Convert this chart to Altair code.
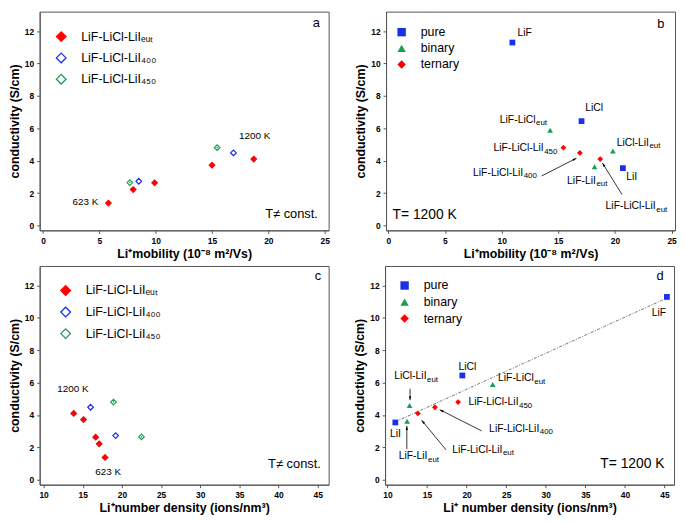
import math
import altair as alt
import pandas as pd

# ---------------- data ----------------
# panels a & c : ternary LiF-LiCl-LiI melts at several temperatures (623 K ... 1200 K)
tern_labels = ["LiF-LiCl-LiIₑᵤₜ", "LiF-LiCl-LiI₄₀₀", "LiF-LiCl-LiI₄₅₀"]
tern_series = [tern_labels[0]] * 5 + [tern_labels[1]] * 2 + [tern_labels[2]] * 2
tern_mobility = [5.8, 8.0, 9.9, 15.0, 18.7, 8.5, 16.9, 7.7, 15.45]
tern_density = [17.85, 17.1, 16.65, 15.1, 13.85, 19.2, 16.0, 22.5, 18.92]
tern_conductivity = [1.38, 2.22, 2.63, 3.72, 4.10, 2.73, 4.48, 2.65, 4.80]

# panels b & d : all melts at 1200 K
melt_groups_order = ["pure", "binary", "ternary"]
melt_names = ["LiF", "LiCl", "LiI", "LiF-LiCl eut", "LiCl-LiI eut", "LiF-LiI eut",
              "LiF-LiCl-LiI 450", "LiF-LiCl-LiI 400", "LiF-LiCl-LiI eut"]
melt_groups = ["pure"] * 3 + ["binary"] * 3 + ["ternary"] * 3
melt_mobility = [10.95, 17.05, 20.7, 14.28, 19.82, 18.2, 15.45, 16.9, 18.7]
melt_density = [45.3, 19.46, 11.0, 23.3, 12.8, 12.48, 18.92, 16.0, 13.85]
melt_conductivity = [11.29, 6.44, 3.54, 5.88, 4.59, 3.62, 4.80, 4.48, 4.10]

# annotation texts (main text + subscript) and their anchors in data units
notes_a_text = ["623 K", "1200 K"]
notes_a_x = [4.9, 17.4]
notes_a_y = [1.47, 5.54]
notes_a_align = ["right", "left"]

notes_c_text = ["1200 K", "623 K"]
notes_c_x = [11.75, 16.6]
notes_c_y = [5.62, 0.5]
notes_c_align = ["left", "left"]

notes_b_text = ["LiF", "LiCl", "LiI", "LiF-LiCl", "LiCl-LiI", "LiF-LiI",
                "LiF-LiCl-LiI", "LiF-LiCl-LiI", "LiF-LiCl-LiI"]
notes_b_sub = ["", "", "", "eut", "eut", "eut", "450", "400", "eut"]
notes_b_x = [11.4, 17.37, 21.0, 12.99, 23.0, 18.32, 13.71, 11.9, 23.6]
notes_b_y = [11.88, 7.23, 2.96, 6.52, 5.09, 2.76, 4.77, 3.26, 1.17]
notes_b_align = ["left", "left", "left", "right", "right", "right", "right", "right", "right"]

notes_d_text = ["LiF", "LiCl", "LiI", "LiCl-LiI", "LiF-LiCl", "LiF-LiCl-LiI",
                "LiF-LiCl-LiI", "LiF-LiCl-LiI", "LiF-LiI"]
notes_d_sub = ["", "", "", "eut", "eut", "450", "400", "eut", "eut"]
notes_d_x = [45.2, 18.98, 10.33, 14.94, 28.48, 26.56, 29.18, 24.52, 15.06]
notes_d_y = [10.29, 6.97, 2.8, 6.40, 6.26, 4.79, 3.14, 1.85, 1.45]
notes_d_align = ["right", "left", "left", "right", "right", "right", "right", "right", "right"]

arrows_b_x1 = [13.54, 20.62]
arrows_b_y1 = [3.06, 1.91]
arrows_b_x2 = [16.6, 18.9]
arrows_b_y2 = [4.15, 3.85]

arrows_d_x1 = [12.86, 21.9, 17.4, 12.45]
arrows_d_y1 = [5.62, 3.02, 1.85, 1.90]
arrows_d_x2 = [12.86, 16.6, 14.32, 12.45]
arrows_d_y2 = [4.92, 4.33, 3.68, 3.32]

panel_letters = ["a", "b", "c", "d"]
letter_x = [24.57, 24.37, 45.45, 44.9]
letter_y = [12.5, 12.46, 12.58, 12.58]
temp_notes = ["T≠ const.", "T= 1200 K", "T≠ const.", "T= 1200 K"]
temp_note_x = [24.4, 0.37, 45.41, 45.0]
temp_note_y = [0.72, 0.64, 0.95, 0.99]
temp_note_align = ["right", "left", "right", "right"]

x_mob_title = "Li⁺mobility (10⁻⁸ m²/Vs)"
x_den_title_c = "Li⁺number density (ions/nm³)"
x_den_title_d = "Li⁺ number density (ions/nm³)"
y_title = "conductivity (S/cm)"

mob_ticks = [0, 5, 10, 15, 20, 25]
den_ticks = [10, 15, 20, 25, 30, 35, 40, 45]
y_ticks = [0, 2, 4, 6, 8, 10, 12]

# ---------------- styles ----------------
FONT = "Liberation Sans"
W, H = 292, 221
Y_DOM = [-0.3, 13.2]
RED, BLUE, GREEN = "#ff0000", "#1a2fe6", "#1a9e55"


def make_panel(pts, kind, xdom, xticks, xtitle, leg_xy, row_pad, notes, arrows, idx, trend=False):
    xs = alt.Scale(domain=xdom, nice=False, zero=False)
    ys = alt.Scale(domain=Y_DOM, nice=False, zero=False)

    def X(f="x"):
        return alt.X(f"{f}:Q", scale=xs, axis=alt.Axis(values=xticks, title=xtitle))

    def Y(f="y"):
        return alt.Y(f"{f}:Q", scale=ys, axis=alt.Axis(values=y_ticks, title=y_title))

    layers = []
    if trend:
        layers.append(
            alt.Chart(pts).transform_regression("x", "y")
            .mark_line(color="#666666", strokeWidth=0.9, strokeDash=[3, 1.5, 1, 1.5])
            .encode(x=X(), y=Y())
        )
    if arrows is not None:
        x1, y1, x2, y2 = arrows
        px = W / (xdom[1] - xdom[0])
        py = H / (Y_DOM[1] - Y_DOM[0])
        ang = [math.degrees(math.atan2((b - a) * px, (d - c) * py)) % 360
               for a, b, c, d in zip(x1, x2, y1, y2)]
        adf = pd.DataFrame({"x": x1, "y": y1, "x2": x2, "y2": y2, "angle": ang})
        layers.append(
            alt.Chart(adf).mark_rule(color="black", strokeWidth=0.8)
            .encode(x=X(), y=Y(), x2="x2:Q", y2="y2:Q")
        )
        layers.append(
            alt.Chart(adf).mark_point(shape="M0,0L-0.8,2.6L0.8,2.6Z", filled=True,
                                      color="black", size=9, opacity=1)
            .encode(x=X("x2"), y=Y("y2"), angle=alt.Angle("angle:Q", scale=None))
        )

    leg = alt.Legend(orient="none", legendX=leg_xy[0], legendY=leg_xy[1], title=None,
                     rowPadding=row_pad, labelFont=FONT, labelFontSize=12.5,
                     symbolStrokeWidth=1.3, padding=0,
                     labelOffset=14 if kind == "tern" else 13,
                     symbolSize=95 if kind == "tern" else 72)
    if kind == "tern":
        layers.append(
            alt.Chart(pts).mark_point(filled=True, size=32, strokeWidth=1.2, opacity=1)
            .encode(
                x=X(), y=Y(),
                stroke=alt.Stroke("series:N", scale=alt.Scale(domain=tern_labels, range=[RED, BLUE, GREEN]), legend=leg),
                fill=alt.Fill("series:N", scale=alt.Scale(domain=tern_labels, range=[RED, "white", "white"]), legend=leg),
                shape=alt.Shape("series:N", scale=alt.Scale(domain=tern_labels, range=["diamond", "diamond", "diamond"]), legend=leg),
            )
        )
        layers.append(
            alt.Chart(pts).transform_filter(alt.datum.series == tern_labels[2])
            .mark_circle(size=2.5, color=GREEN, opacity=1)
            .encode(x=X(), y=Y())
        )
    else:
        layers.append(
            alt.Chart(pts).mark_point(filled=True, size=34, opacity=1)
            .encode(
                x=X(), y=Y(),
                color=alt.Color("group:N", scale=alt.Scale(domain=melt_groups_order, range=[BLUE, GREEN, RED]), legend=leg),
                shape=alt.Shape("group:N", scale=alt.Scale(domain=melt_groups_order, range=["square", "triangle-up", "diamond"]), legend=leg),
            )
        )

    # annotations
    ndf = pd.DataFrame(notes)
    fsz = 10 if kind == "tern" else 10.5
    for al in ["left", "right"]:
        layers.append(
            alt.Chart(ndf).transform_filter(alt.datum.align == al)
            .mark_text(align=al, baseline="middle", font=FONT, fontSize=fsz, color="black")
            .encode(x=X(), y=Y(), text="text:N")
        )
    if "sub" in ndf:
        layers.append(
            alt.Chart(ndf).transform_filter(alt.datum.sub != "")
            .mark_text(align="left", baseline="middle", font=FONT, fontSize=8, dx=0.5, dy=3.5, color="black")
            .encode(x=X(), y=Y(), text="sub:N")
        )

    cdf = pd.DataFrame({"x": [letter_x[idx]], "y": [letter_y[idx]], "text": [panel_letters[idx]]})
    layers.append(
        alt.Chart(cdf).mark_text(align="right", baseline="middle", font=FONT, fontSize=13, color="black")
        .encode(x=X(), y=Y(), text="text:N")
    )
    tdf = pd.DataFrame({"x": [temp_note_x[idx]], "y": [temp_note_y[idx]], "text": [temp_notes[idx]]})
    layers.append(
        alt.Chart(tdf).mark_text(align=temp_note_align[idx], baseline="middle", font=FONT,
                                 fontSize=13 if idx in (0, 2) else 14, color="black")
        .encode(x=X(), y=Y(), text="text:N")
    )
    return alt.layer(*layers).properties(width=W, height=H)


tern_a = pd.DataFrame({"x": tern_mobility, "y": tern_conductivity, "series": tern_series})
tern_c = pd.DataFrame({"x": tern_density, "y": tern_conductivity, "series": tern_series})
melt_b = pd.DataFrame({"x": melt_mobility, "y": melt_conductivity, "group": melt_groups, "name": melt_names})
melt_d = pd.DataFrame({"x": melt_density, "y": melt_conductivity, "group": melt_groups, "name": melt_names})

pa = make_panel(tern_a, "tern", [-0.3, 25.35], mob_ticks, x_mob_title, (15.5, 19), 5.5,
                {"x": notes_a_x, "y": notes_a_y, "text": notes_a_text, "align": notes_a_align}, None, 0)
pb = make_panel(melt_b, "melt", [-0.2, 25.3], mob_ticks, x_mob_title, (9.5, 14.5), 3.3,
                {"x": notes_b_x, "y": notes_b_y, "text": notes_b_text, "sub": notes_b_sub, "align": notes_b_align},
                (arrows_b_x1, arrows_b_y1, arrows_b_x2, arrows_b_y2), 1)
pc = make_panel(tern_c, "tern", [9.5, 46.4], den_ticks, x_den_title_c, (20, 18.5), 5.8,
                {"x": notes_c_x, "y": notes_c_y, "text": notes_c_text, "align": notes_c_align}, None, 2)
pd_ = make_panel(melt_d, "melt", [9.7, 46.2], den_ticks, x_den_title_d, (13.5, 13.5), 3.7,
                 {"x": notes_d_x, "y": notes_d_y, "text": notes_d_text, "sub": notes_d_sub, "align": notes_d_align},
                 (arrows_d_x1, arrows_d_y1, arrows_d_x2, arrows_d_y2), 3, trend=True)

ind = dict(color="independent", fill="independent", stroke="independent", shape="independent")
row1 = alt.hconcat(pa, pb, spacing=24).resolve_scale(**ind).resolve_legend(**ind)
row2 = alt.hconcat(pc, pd_, spacing=24).resolve_scale(**ind).resolve_legend(**ind)

chart = (
    alt.vconcat(row1, row2, spacing=4)
    .resolve_scale(**ind).resolve_legend(**ind)
    .properties(padding={"left": 0, "top": 0, "right": 0, "bottom": 0}, background="white")
    .configure_view(stroke="#555555", strokeWidth=1)
    .configure_axis(grid=False, domainColor="#555555", tickColor="#555555", tickSize=3,
                    labelFont=FONT, labelFontSize=8.5, labelFontWeight="bold", labelColor="black",
                    labelPadding=3, titleFont=FONT, titleFontSize=12.5, titleFontWeight="bold",
                    titleColor="black", titlePadding=3)
)

chart.save("out.html", embed_options={"renderer": "svg", "actions": False})
